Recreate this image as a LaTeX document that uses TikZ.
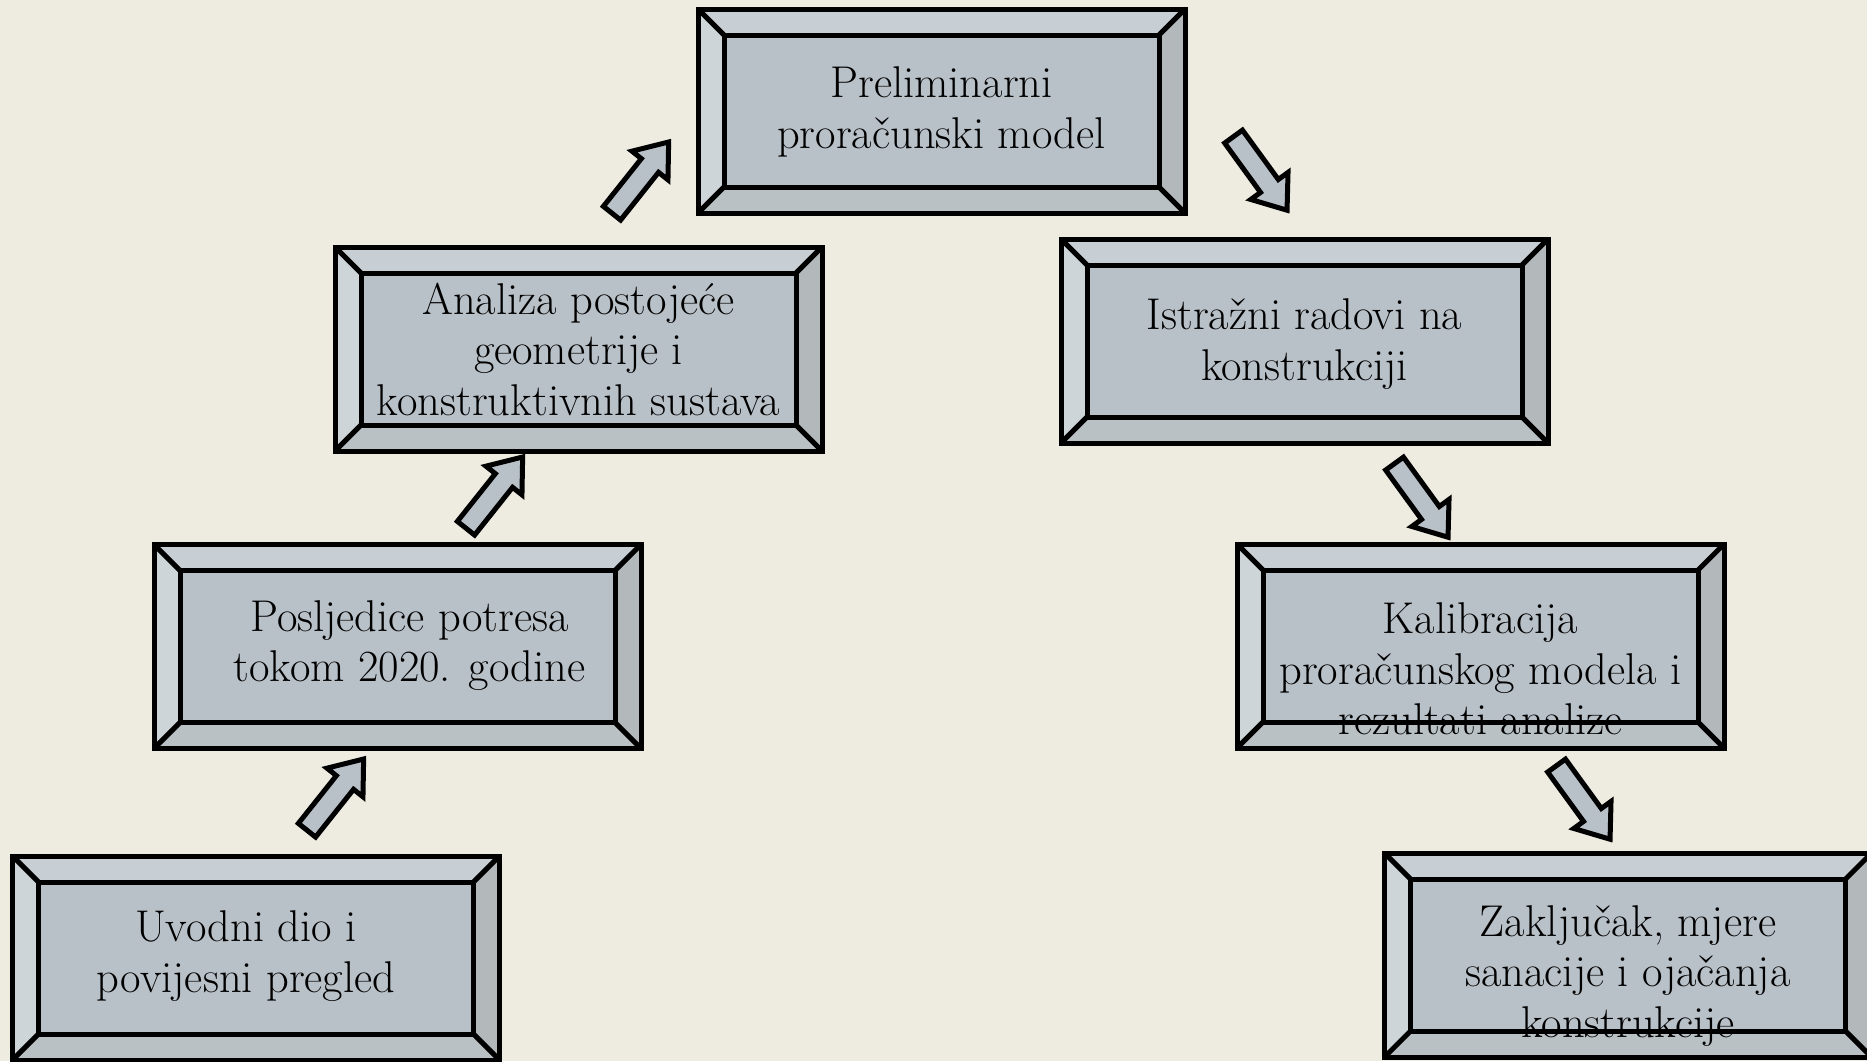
\documentclass[tikz,border=0pt]{standalone}
\usepackage{fontspec}
\usetikzlibrary{calc}
\definecolor{bg}{HTML}{EEECE1}
\definecolor{face}{HTML}{B9C1C8}
\definecolor{btop}{HTML}{C8CFD4}
\definecolor{bleft}{HTML}{CED5D8}
\definecolor{bright}{HTML}{B3B8BB}
\definecolor{bbot}{HTML}{BAC1C5}
\tikzset{
  boxouter/.style={rectangle, minimum width=487pt, minimum height=204pt, inner sep=0pt, outer sep=0pt},
  boxline/.style={draw=black, line width=5pt, line join=miter},
  boxtext/.style={align=center, font=\fontsize{44.5}{50.5}\selectfont, text=black, inner sep=0pt},
  blockarrow/.style={fill=face, draw=black, line width=5pt, line join=miter},
}
\newcommand\bevelbox[3]{%
  \node[boxouter] (#1) at (#2,#3) {};
  \coordinate (#1-iNW) at ($(#1.north west)+(26,26)$);
  \coordinate (#1-iNE) at ($(#1.north east)+(-26,26)$);
  \coordinate (#1-iSW) at ($(#1.south west)+(26,-26)$);
  \coordinate (#1-iSE) at ($(#1.south east)+(-26,-26)$);
  \fill[btop] (#1.north west) -- (#1.north east) -- (#1-iNE) -- (#1-iNW) -- cycle;
  \fill[bleft] (#1.north west) -- (#1-iNW) -- (#1-iSW) -- (#1.south west) -- cycle;
  \fill[bright] (#1.north east) -- (#1.south east) -- (#1-iSE) -- (#1-iNE) -- cycle;
  \fill[bbot] (#1.south west) -- (#1-iSW) -- (#1-iSE) -- (#1.south east) -- cycle;
  \fill[face] (#1-iNW) rectangle (#1-iSE);
  \draw[boxline] (#1.north west) -- (#1-iNW) (#1.north east) -- (#1-iNE)
    (#1.south west) -- (#1-iSW) (#1.south east) -- (#1-iSE);
  \draw[boxline] (#1-iNW) rectangle (#1-iSE);
  \draw[boxline] (#1.north west) rectangle (#1.south east);
}
\newcommand\barrow[4]{%
  \coordinate (#1) at (#2,#3);
  \draw[blockarrow, shift={(#1)}, rotate=#4]
    (-45,-11) -- (16,-11) -- (16,-23) -- (46,0) -- (16,23) -- (16,11) -- (-45,11) -- cycle;
}
\begin{document}
\begin{tikzpicture}[x=1pt, y=-1pt]
\fill[bg] (0,0) rectangle (1867,1061);
\useasboundingbox (0,0) rectangle (1867,1061);

\bevelbox{b1}{941.5}{111}
\bevelbox{b2}{578.5}{349}
\bevelbox{b3}{397.5}{646.5}
\bevelbox{b4}{256}{958}
\bevelbox{b5}{1304.5}{341}
\bevelbox{b6}{1480.5}{646}
\bevelbox{b7}{1628}{955}

\node[boxtext] (t1) at ($(b1)+(0,1)$) {Preliminarni\\proračunski model};
\node[boxtext] (t2) at ($(b2)+(0,0)$) {Analiza postojeće\\geometrije i\\konstruktivnih sustava};
\node[boxtext] (t3) at ($(b3)+(12,-1)$) {Posljedice potresa\\tokom 2020. godine};
\node[boxtext] (t4) at ($(b4)+(-10,-2)$) {Uvodni dio i\\povijesni pregled};
\node[boxtext] (t5) at ($(b5)+(0,3)$) {Istražni radovi na\\konstrukciji};
\node[boxtext] (t6) at ($(b6)+(0,23)$) {Kalibracija\\proračunskog modela i\\rezultati analize};
\node[boxtext] (t7) at ($(b7)+(0,21)$) {Zaključak, mjere\\sanacije i ojačanja\\konstrukcije};

\barrow{a1}{335}{795}{51.5}
\barrow{a2}{494}{493}{51.5}
\barrow{a3}{640}{178}{51.5}
\barrow{a4}{1260}{173}{-54}
\barrow{a5}{1421}{500}{-54}
\barrow{a6}{1583}{802}{-54}
\end{tikzpicture}
\end{document}
